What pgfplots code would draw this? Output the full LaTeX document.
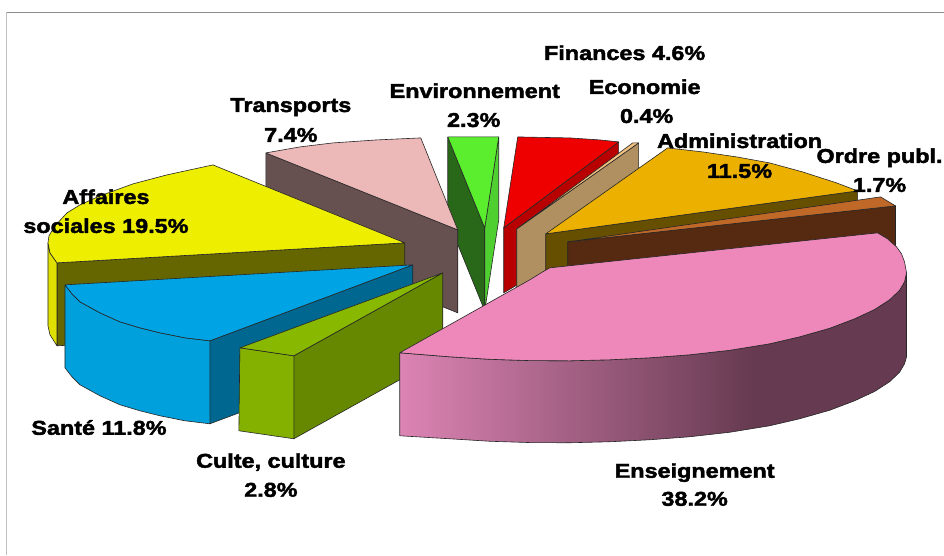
\documentclass[border=0pt]{standalone}
\usepackage{fontspec}
\usepackage{pgfplots}
\pgfplotsset{compat=1.18}
\newfontfamily\lab[FakeStretch=1.17,FakeBold=2.2]{Liberation Sans Bold}
\definecolor{ytop}{HTML}{EEEE00}\definecolor{yside}{HTML}{E0E000}\definecolor{yrad}{HTML}{666600}
\definecolor{ttop}{HTML}{ECB8B8}\definecolor{trad}{HTML}{665050}
\definecolor{etop}{HTML}{5AEE2E}\definecolor{erad}{HTML}{286818}\definecolor{eside}{HTML}{50D030}
\definecolor{ftop}{HTML}{EE0000}\definecolor{frad}{HTML}{B80000}
\definecolor{ctop}{HTML}{F0C080}\definecolor{crad}{HTML}{B09060}
\definecolor{atop}{HTML}{ECB000}\definecolor{arad}{HTML}{665000}
\definecolor{otop}{HTML}{C06828}\definecolor{orad}{HTML}{552A10}
\definecolor{ptop}{HTML}{EE88BB}\definecolor{pa}{HTML}{DC84B4}\definecolor{pb}{HTML}{663A50}
\definecolor{stop}{HTML}{00A4E4}\definecolor{sside}{HTML}{00A0DC}\definecolor{srad}{HTML}{006890}
\definecolor{utop}{HTML}{88B800}\definecolor{uside}{HTML}{84B000}\definecolor{urad}{HTML}{668800}
\definecolor{frame}{HTML}{8C8C8C}\definecolor{frameb}{HTML}{C0C0C0}
\pgfdeclarehorizontalshading{pinkside}{100bp}{color(0bp)=(pa); color(25bp)=(pa); color(60bp)=(pb); color(75bp)=(pb); color(100bp)=(pb)}
\pgfplotsset{
  face/.style={draw=black!85,line width=.6pt,line join=round,fill=#1,mark=none,solid},
}
\tikzset{lb/.style={font=\lab\fontsize{20}{24}\selectfont,anchor=base,text=black,inner sep=0pt}}
\begin{document}
\begin{tikzpicture}
\path (0,0) rectangle (944pt,555pt);
\begin{axis}[scale only axis,width=944pt,height=555pt,xmin=0,xmax=944,ymin=0,ymax=555,y dir=reverse,hide axis,clip=false,at={(0,0)},anchor=south west]
% frame
\addplot[color=frame,line width=1pt,mark=none] coordinates {(944,12.5)(6.5,12.5)};
\addplot[color=frameb,line width=1.2pt,mark=none] coordinates {(6.5,12.5)(6.5,555)};
% Finances
\addplot[face=frad] coordinates {(619,142)(504,228)(504,293)(619,225)(619,142)};
\addplot[face=ftop] coordinates {(518,137)(570,138)(600,140)(619,142)(504,228)(518,137)};
% Economie
\addplot[face=crad] coordinates {(639,143)(517,229)(517,312)(639,226)(639,143)};
\addplot[face=ctop] coordinates {(633,143)(639,143)(517,229)(633,143)};
% Administration
\addplot[face=arad] coordinates {(546,234)(858,191)(858,274)(546,317)(546,234)};
\addplot[face=atop] coordinates {(668,148)(703,152)(737,157)(770,163)(803,172)(837,183)(858,191)(546,234)(668,148)};
% Ordre public
\addplot[face=orad] coordinates {(568,242)(896,206)(896,289)(568,325)(568,242)};
\addplot[face=otop] coordinates {(881,197)(896,206)(568,242)(881,197)};
% Environnement
\addplot[face=erad] coordinates {(448,137)(485,228)(485,311)(448,220)(448,137)};
\addplot[face=eside] coordinates {(499,137)(485,228)(485,311)(499,220)(499,137)};
\addplot[face=etop] coordinates {(448,137)(499,137)(485,228)(448,137)};
% Transports
\addplot[face=trad] coordinates {(266,153)(458,230)(458,313)(266,236)(266,153)};
\addplot[face=ttop] coordinates {(266,153)(300,147)(333,143)(377,140)(421,138)(458,230)(266,153)};
% Affaires sociales
\addplot[face=yrad] coordinates {(57,263)(405,243)(405,326)(57,346)(57,263)};
\addplot[face=yside] coordinates {(48,243)(50,253)(57,263)(57,346)(50,335)(48,326)(48,243)};
\addplot[face=ytop] coordinates {(213,165)(190,170)(167,175)(133,184)(100,196)(80,205)(67,213)(55,226)(49,236)(48,243)(50,253)(57,263)(405,243)(213,165)};
% Sante
\addplot[face=srad] coordinates {(210,341)(413,265)(413,348)(210,424)(210,341)};
\addplot[face=sside] coordinates {(65,285)(72,294)(80,302)(100,313)(120,322)(140,328)(160,333)(185,338)(210,341)(210,424)(185,421)(160,416)(140,411)(120,405)(100,396)(80,385)(72,377)(65,368)(65,285)};
\addplot[face=stop] coordinates {(65,285)(413,265)(210,341)(185,338)(160,333)(140,328)(120,322)(100,313)(80,302)(72,294)(65,285)};
% Culte
\addplot[face=urad] coordinates {(294,356)(443,273)(443,356)(294,439)(294,356)};
\addplot[face=uside] coordinates {(240,348)(294,356)(294,439)(239,431)(240,348)};
\addplot[face=utop] coordinates {(240,348)(294,356)(443,273)(240,348)};
% Enseignement
\addplot[draw=black!85,line width=.6pt,line join=round,mark=none,shading=pinkside] coordinates {(400,353)(450,357)(490,359.5)(530,360.8)(570,361)(610,360)(650,358)(690,355)(730,350.5)(770,344)(800,337)(830,328.5)(855,319)(875,309.7)(890,300)(900,290.5)(905,282)(907,273)(907,357)(905,364)(900,372.5)(890,382)(875,391.7)(855,401)(830,410.5)(800,419)(770,426)(730,432.5)(690,437)(650,440)(610,442)(570,443)(530,442.8)(490,441.5)(450,439)(400,436)(400,353)};
\addplot[face=ptop] coordinates {(400,353)(530,280)(543,272)(550,268)(878,233)(888,239)(897,247)(902,254)(905,262)(907,273)(905,282)(900,290.5)(890,300)(875,309.7)(855,319)(830,328.5)(800,337)(770,344)(730,350.5)(690,355)(650,358)(610,360)(570,361)(530,360.8)(490,359.5)(450,357)(400,353)};
% labels
\node[lb] at (axis cs:625,60) {Finances 4.6\%};
\node[lb] at (axis cs:645,94) {Economie};
\node[lb] at (axis cs:647,123) {0.4\%};
\node[lb] at (axis cs:475,98) {Environnement};
\node[lb] at (axis cs:474,127) {2.3\%};
\node[lb] at (axis cs:291,112) {Transports};
\node[lb] at (axis cs:291,142) {7.4\%};
\node[lb] at (axis cs:106,204) {Affaires};
\node[lb] at (axis cs:106,233) {sociales 19.5\%};
\node[lb] at (axis cs:740,148) {Administration};
\node[lb] at (axis cs:740,178) {11.5\%};
\node[lb] at (axis cs:880,163) {Ordre publ.};
\node[lb] at (axis cs:880,192) {1.7\%};
\node[lb] at (axis cs:99,435) {Santé 11.8\%};
\node[lb] at (axis cs:271,468) {Culte, culture};
\node[lb] at (axis cs:271,497) {2.8\%};
\node[lb] at (axis cs:695,478) {Enseignement};
\node[lb] at (axis cs:695,506) {38.2\%};
\end{axis}
\end{tikzpicture}
\end{document}
